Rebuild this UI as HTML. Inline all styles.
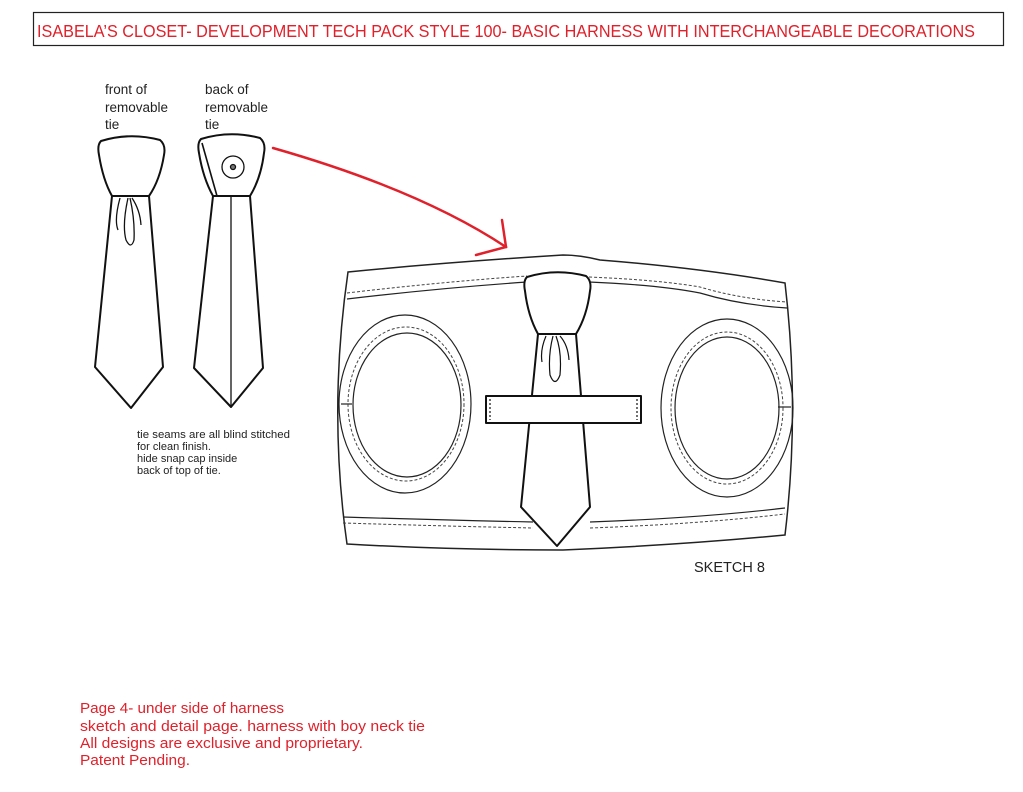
<!DOCTYPE html>
<html><head><meta charset="utf-8"><style>
html,body{margin:0;padding:0;background:#fff;width:1023px;height:792px;overflow:hidden}
svg{display:block}
</style></head><body>
<svg width="1023" height="792" viewBox="0 0 1023 792" xmlns="http://www.w3.org/2000/svg" font-family="Liberation Sans, sans-serif">
<rect x="33.5" y="12.5" width="970" height="33" fill="#fff" stroke="#222" stroke-width="1.2"/>
<text x="37" y="37" font-size="17.5" fill="#e0202a" textLength="938" lengthAdjust="spacingAndGlyphs">ISABELA’S CLOSET- DEVELOPMENT TECH PACK  STYLE 100- BASIC HARNESS WITH INTERCHANGEABLE DECORATIONS</text>

<g font-size="13.5" fill="#222">
<text x="105" y="94">front of</text><text x="105" y="112">removable</text><text x="105" y="129">tie</text>
<text x="205" y="94">back of</text><text x="205" y="112">removable</text><text x="205" y="129">tie</text>
</g>

<g fill="#fff" stroke="#111" stroke-width="2" stroke-linejoin="round">
<!-- front tie -->
<path d="M112,196 L95,367 L131,408 L163,367 L149,196 Z"/>
<path d="M101,141 Q130,132 160,140 Q166,145 164,155 Q160,180 149,196 L112,196 Q103,180 99,155 Q97,145 101,141 Z"/>
<!-- back tie -->
<path d="M213,196 L194,368 L231,407 L263,368 L250,196 Z"/>
<path d="M201,139 Q230,130 260,138 Q266,143 264,153 Q261,178 250,196 L213,196 Q203,178 199,153 Q197,143 201,139 Z"/>
</g>
<g fill="none" stroke="#111" stroke-width="1.3">
<path d="M120,198 Q114,220 118,230 M128,198 Q122,225 126,240 Q131,250 134,240 Q135,220 130,198 M132,198 Q140,210 141,225"/>
<line x1="231" y1="197" x2="231" y2="406"/>
<line x1="202" y1="143" x2="217" y2="196" stroke-width="1.6"/>
<circle cx="233" cy="167" r="11"/>
<circle cx="233" cy="167" r="2.5" fill="#777"/>
</g>

<g font-size="11" fill="#222">
<text x="137" y="438" textLength="153" lengthAdjust="spacingAndGlyphs">tie seams are all blind stitched</text>
<text x="137" y="450">for clean finish.</text>
<text x="137" y="462">hide snap cap inside</text>
<text x="137" y="474">back of top of tie.</text>
</g>

<!-- red arrow -->
<g stroke="#e0202a" stroke-width="2.5" fill="none" stroke-linecap="round">
<path d="M273,148 Q420,190 506,247"/>
<path d="M502,220 L506,247 L476,255"/>
</g>

<!-- harness -->
<g fill="#fff" stroke="#222" stroke-width="1.5">
<path d="M348,272 Q450,262 563,255 Q580,255 600,260 Q700,268 785,283 Q800,410 785,535 Q680,545 563,550 Q450,550 347,544 Q328,410 348,272 Z"/>
</g>
<g fill="none" stroke="#222" stroke-width="1.2">
<path d="M347,299 Q440,288 527,282"/>
<path d="M589,282 Q660,285 700,293 Q740,305 787,308"/>
<path d="M343,517 Q440,520 533,522"/>
<path d="M590,522 Q700,518 785,508"/>
<ellipse cx="405" cy="404" rx="66" ry="89"/>
<ellipse cx="407" cy="405" rx="54" ry="72"/>
<ellipse cx="727" cy="408" rx="66" ry="89"/>
<ellipse cx="727" cy="408" rx="52" ry="71"/>
<line x1="341" y1="404" x2="352" y2="404"/>
<line x1="778" y1="407" x2="791" y2="407"/>
</g>
<g fill="none" stroke="#444" stroke-width="1" stroke-dasharray="3,2">
<path d="M347,293 Q440,282 527,276"/>
<path d="M589,277 Q660,280 700,287 Q740,299 787,302"/>
<path d="M343,523 Q440,526 533,528"/>
<path d="M590,528 Q700,524 785,514"/>
<ellipse cx="406" cy="404" rx="58" ry="77"/>
<ellipse cx="727" cy="408" rx="56" ry="76"/>
</g>

<!-- tie on harness -->
<g fill="#fff" stroke="#111" stroke-width="2" stroke-linejoin="round">
<path d="M538,334 L521,507 L557,546 L590,507 L576,334 Z"/>
<path d="M527,277 Q556,268 586,276 Q592,281 590,291 Q587,316 576,334 L538,334 Q528,316 525,291 Q523,281 527,277 Z"/>
<rect x="486" y="396" width="155" height="27"/>
</g>
<g fill="none" stroke="#111" stroke-width="1.2">
<path d="M546,336 Q540,350 542,362 M553,336 Q548,355 550,375 Q555,388 560,375 Q562,352 556,336 M560,336 Q568,345 569,360"/>
<line x1="490" y1="399" x2="490" y2="420" stroke-dasharray="2,2"/>
<line x1="637" y1="399" x2="637" y2="420" stroke-dasharray="2,2"/>
</g>

<text x="694" y="572" font-size="14.5" fill="#222">SKETCH 8</text>

<g font-size="15" fill="#e0202a">
<text x="80" y="713" textLength="204" lengthAdjust="spacingAndGlyphs">Page 4- under side of harness</text>
<text x="80" y="731" textLength="345" lengthAdjust="spacingAndGlyphs">sketch and detail page.  harness with boy neck tie</text>
<text x="80" y="748" textLength="283" lengthAdjust="spacingAndGlyphs">All designs are exclusive and proprietary.</text>
<text x="80" y="765" textLength="110" lengthAdjust="spacingAndGlyphs">Patent Pending.</text>
</g>
</svg>
</body></html>
